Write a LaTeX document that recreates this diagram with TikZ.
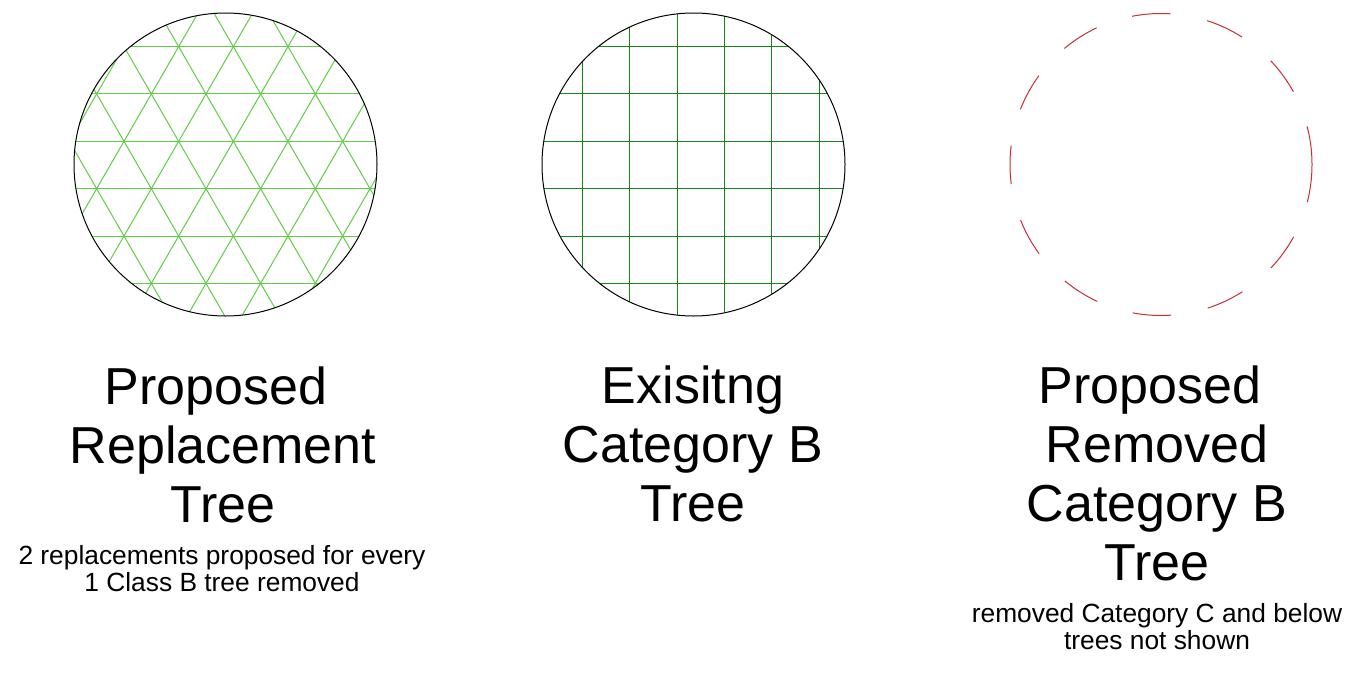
\documentclass[tikz,border=0pt]{standalone}
\usepackage{fontspec}
\setmainfont{Liberation Sans}
\newcommand\titlefont{\fontsize{39}{44.25}\selectfont}
\newcommand\notefont{\fontsize{19.75}{20.6}\selectfont}
\definecolor{hatchlight}{RGB}{95,205,70}
\definecolor{hatchdark}{RGB}{20,135,20}
\definecolor{removedred}{RGB}{200,45,55}
\tikzset{
  outline/.style={draw=black, line width=0.75pt},
  hatchtri/.style={draw=hatchlight, line width=0.75pt},
  hatchsq/.style={draw=hatchdark, line width=0.75pt},
  removedline/.style={draw=removedred, line width=0.75pt, dash pattern=on 28.9pt off 28.03pt},
  title/.style={font=\titlefont, inner sep=0pt, anchor=base},
  note/.style={font=\notefont, inner sep=0pt, anchor=base},
}
\begin{document}
\begin{tikzpicture}[x=0.75pt, y=-0.75pt]
\useasboundingbox (0,0) rectangle (1367,675);
% coordinates of the circle centres
\coordinate (cL) at (225.5,164.5);
\coordinate (cM) at (693.5,164.5);
\coordinate (cR) at (1161,164.5);
% left: triangular hatch
\begin{scope}
  \clip (cL) circle[radius=113.625pt];
  \foreach \k in {-3,...,3} {
    \draw[hatchtri] (60,{141.33+47.34*\k}) -- (400,{141.33+47.34*\k});
  }
  \foreach \i in {-8,...,8} {
    \draw[hatchtri] ({233.33+54.67*\i-115.47},341.33) -- ({233.33+54.67*\i+115.47},-58.67);
    \draw[hatchtri] ({233.33+54.67*\i-115.47},-58.67) -- ({233.33+54.67*\i+115.47},341.33);
  }
\end{scope}
\draw[outline] (cL) circle[radius=113.625pt];
% middle: square hatch
\begin{scope}
  \clip (cM) circle[radius=113.625pt];
  \foreach \k in {-3,...,3} {
    \draw[hatchsq] (530,{141.33+47.34*\k}) -- (860,{141.33+47.34*\k});
    \draw[hatchsq] ({677.3+47.34*\k},0) -- ({677.3+47.34*\k},330);
  }
\end{scope}
\draw[outline] (cM) circle[radius=113.625pt];
% right: dashed red circle
\draw[removedline] (cR) circle[radius=113.25pt];
% texts
\node[title] (tL) at (223,404) {\begin{tabular}[t]{@{}c@{}}Proposed\rule{0.28em}{0pt}\\Replacement\\Tree\end{tabular}};
\node[note] (nL) at (222,564.5) {\begin{tabular}[t]{@{}c@{}}2 replacements proposed for every\\1 Class B tree removed\end{tabular}};
\node[title] (tM) at (693,403.5) {\begin{tabular}[t]{@{}c@{}}Exisitng\\Category B\\Tree\end{tabular}};
\node[title] (tR) at (1157,403.5) {\begin{tabular}[t]{@{}c@{}}Proposed\rule{0.28em}{0pt}\\Removed\\Category B\\Tree\end{tabular}};
\node[note] (nR) at (1157,622) {\begin{tabular}[t]{@{}c@{}}removed Category C and below\\trees not shown\end{tabular}};
\end{tikzpicture}
\end{document}
